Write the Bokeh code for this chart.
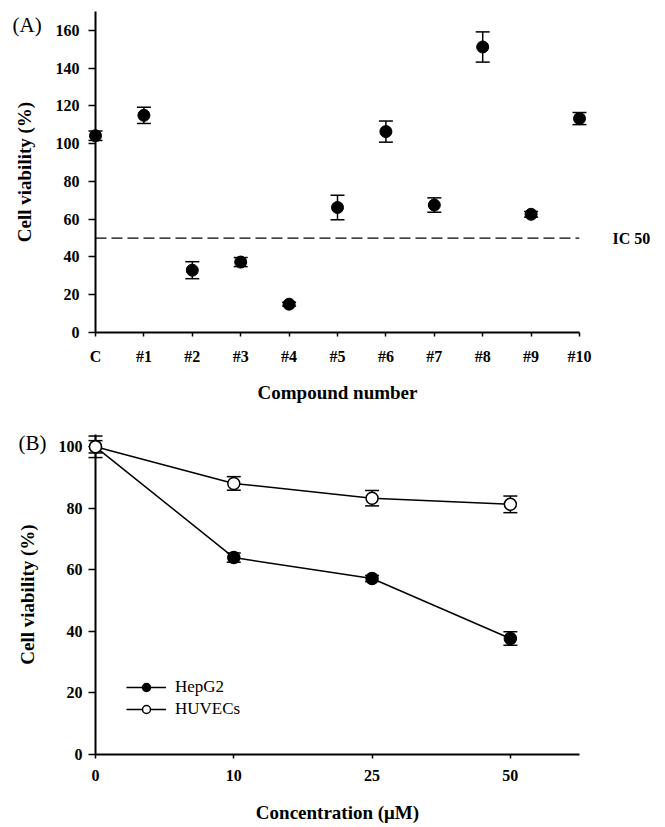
import numpy as np
from bokeh.plotting import figure
from bokeh.layouts import column
from bokeh.models import (ColumnDataSource, Span, Legend, LegendItem,
                          FixedTicker, Range1d)
from bokeh.core.properties import value
from bokeh.embed import file_html
from bokeh.resources import INLINE

# ---------------- data: panel A ----------------
compounds = ["C", "#1", "#2", "#3", "#4", "#5", "#6", "#7", "#8", "#9", "#10"]
viability = [104.2, 115.0, 33.0, 37.3, 15.0, 66.2, 106.4, 67.5, 151.2, 62.6, 113.3]
viability_err = [2.5, 4.3, 4.5, 2.4, 1.0, 6.5, 5.6, 3.8, 8.0, 1.5, 3.2]
ic50_level = 50
a_yticks = [0, 20, 40, 60, 80, 100, 120, 140, 160]

# ---------------- data: panel B ----------------
conc_labels = ["0", "10", "25", "50"]
hepg2 = [100.0, 64.0, 57.2, 37.7]
hepg2_err = [3.5, 1.5, 1.0, 2.2]
huvec = [100.0, 88.1, 83.3, 81.3]
huvec_err = [2.0, 2.2, 2.5, 2.7]
b_yticks = [0, 20, 40, 60, 80, 100]

SERIF = "Liberation Serif"


def style(p, xticks, xlabels, yticks, xlabel, ylabel, ylab_standoff, xlab_standoff, ymaj_standoff):
    p.grid.visible = False
    p.outline_line_color = None
    p.background_fill_color = "white"
    p.border_fill_color = "white"
    p.xaxis.ticker = FixedTicker(ticks=xticks)
    p.xaxis.major_label_overrides = {t: l for t, l in zip(xticks, xlabels)}
    p.yaxis.ticker = FixedTicker(ticks=yticks)
    for ax in (p.xaxis[0], p.yaxis[0]):
        ax.axis_line_width = 2
        ax.axis_line_color = "black"
        ax.major_tick_line_color = "black"
        ax.major_tick_line_width = 1.5
        ax.major_tick_in = 0
        ax.minor_tick_in = 0
        ax.minor_tick_out = 0
        ax.major_label_text_font = SERIF
        ax.major_label_text_font_style = "bold"
        ax.major_label_text_font_size = "16px"
        ax.major_label_text_color = "black"
        ax.axis_label_text_font = SERIF
        ax.axis_label_text_font_style = "bold"
        ax.axis_label_text_font_size = "19px"
        ax.axis_label_text_color = "black"
    p.xaxis.major_tick_out = 4
    p.yaxis.major_tick_out = 7
    p.xaxis.major_label_standoff = 11
    p.yaxis.major_label_standoff = ymaj_standoff
    p.xaxis.axis_label = xlabel
    p.yaxis.axis_label = ylabel
    p.yaxis.axis_label_standoff = ylab_standoff
    p.xaxis.axis_label_standoff = xlab_standoff


def errorbars(p, src):
    rs = []
    rs.append(p.segment(x0="x", y0="lower", x1="x", y1="upper", source=src,
                        line_color="black", line_width=1.5))
    rs.append(p.scatter("x", "upper", source=src, marker="dash", size=14,
                        line_color="black", line_width=1.5))
    rs.append(p.scatter("x", "lower", source=src, marker="dash", size=14,
                        line_color="black", line_width=1.5))
    for r in rs:
        r.level = "overlay"
    return rs


def make_src(x, m, e):
    return ColumnDataSource(dict(
        x=x, y=m,
        upper=[v + d for v, d in zip(m, e)],
        lower=[v - d for v, d in zip(m, e)],
    ))


def add_text(p, x, y, txt, size, bold=False):
    r = p.text(x=[x], y=[y], text=[txt], text_font=value(SERIF),
               text_font_size=value(size),
               text_font_style="bold" if bold else "normal",
               text_baseline="middle", text_align="left", text_color="black")
    r.level = "overlay"
    return r


# ================= Panel A =================
xa = list(range(len(compounds)))
srcA = make_src(xa, viability, viability_err)

pA = figure(width=660, height=415, output_backend="svg", toolbar_location=None,
            title=None,
            x_range=Range1d(0, len(compounds) - 1), y_range=Range1d(0, 170),
            min_border_left=95, min_border_right=81, min_border_top=11,
            min_border_bottom=83)
style(pA, xa, compounds, a_yticks, "Compound number", "Cell viability (%)",
      18, 14, 9)

pA.add_layout(Span(location=ic50_level, dimension="width", line_color="black",
                   line_width=1.3, line_dash="11 5"))

errorbars(pA, srcA)
rA = pA.scatter("x", "y", source=srcA, size=12, fill_color="black",
                line_color="black", marker="circle")
rA.level = "overlay"

add_text(pA, 10.68, ic50_level, "IC 50", "16px", bold=True)
add_text(pA, -1.715, 162.6, "(A)", "21px")

# ================= Panel B =================
xb = list(range(len(conc_labels)))
srcH = make_src(xb, hepg2, hepg2_err)
srcU = make_src(xb, huvec, huvec_err)

pB = figure(width=660, height=412, output_backend="svg", toolbar_location=None,
            title=None,
            x_range=Range1d(0, 3.5), y_range=Range1d(0, 104),
            min_border_left=93, min_border_right=57, min_border_top=19,
            min_border_bottom=73)
style(pB, xb, conc_labels, b_yticks, "Concentration (\u03bcM)",
      "Cell viability (%)", 18, 18, 6)

errorbars(pB, srcH)
errorbars(pB, srcU)

lH = pB.line("x", "y", source=srcH, line_color="black", line_width=1.5)
lU = pB.line("x", "y", source=srcU, line_color="black", line_width=1.5)
sH = pB.scatter("x", "y", source=srcH, size=12, marker="circle",
                fill_color="black", line_color="black", line_width=1.5)
sU = pB.scatter("x", "y", source=srcU, size=12, marker="circle",
                fill_color="white", line_color="black", line_width=1.5)
for r in (lH, lU, sH, sU):
    r.level = "overlay"

leg = Legend(items=[LegendItem(label="HepG2", renderers=[lH, sH]),
                    LegendItem(label="HUVECs", renderers=[lU, sU])],
             location=(31, 35), orientation="vertical",
             glyph_width=40, glyph_height=20, label_height=20, spacing=2,
             label_standoff=9, padding=0, margin=0,
             border_line_color=None, background_fill_alpha=0,
             label_text_font=SERIF, label_text_font_size="17px",
             label_text_color="black")
pB.add_layout(leg)

add_text(pB, -0.556, 101.1, "(B)", "21px")

layout = column(pA, pB, spacing=0)
open("out.html", "w").write(file_html(layout, INLINE))
